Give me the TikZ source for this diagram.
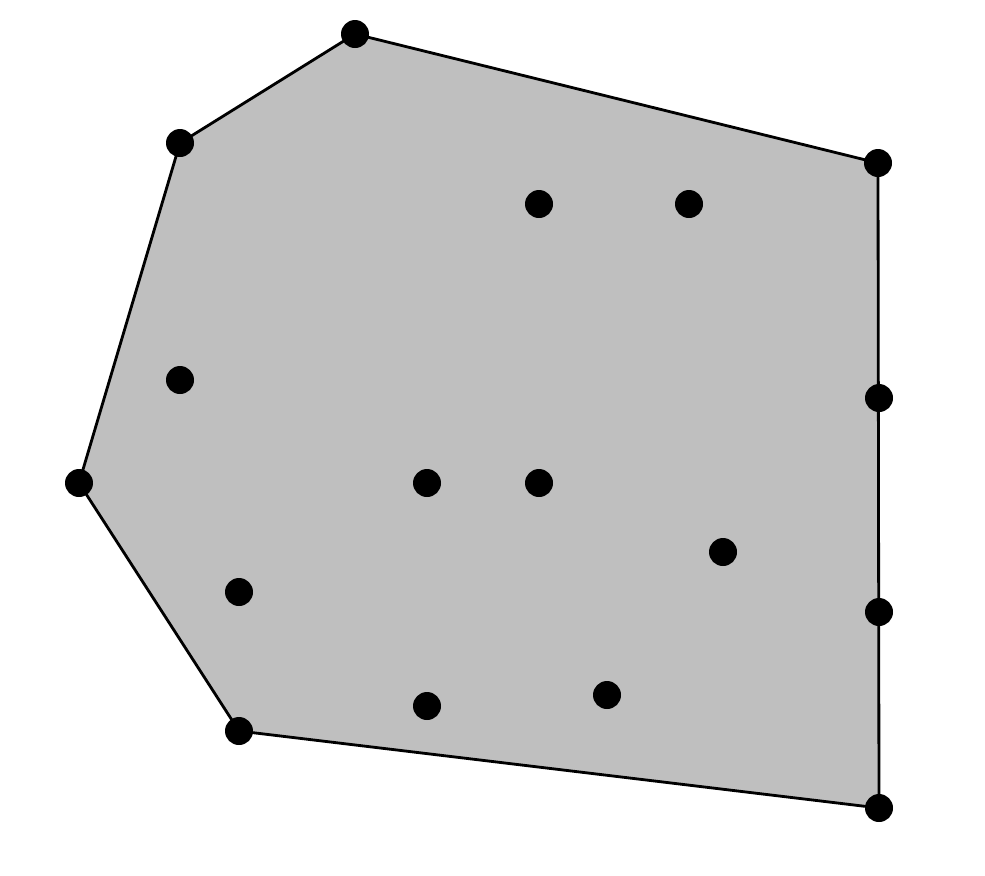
\documentclass[tikz,border=0pt]{standalone}
\begin{document}
\begin{tikzpicture}[x=0.2mm,y=-0.2mm,line join=round,
  dot/.style={circle,fill=black,inner sep=0pt,minimum size=5.6mm},
  hull/.style={draw=black,line width=1.6pt,fill=black!25}]
  \useasboundingbox (0,0) rectangle (985,875);
  % hull corners
  \coordinate (h1) at (355,34);
  \coordinate (h2) at (878,163);
  \coordinate (h3) at (879,808);
  \coordinate (h4) at (239,731);
  \coordinate (h5) at (79,483);
  \coordinate (h6) at (180,143);
  \draw[hull] (h1) -- (h2) -- (h3) -- (h4) -- (h5) -- (h6) -- cycle;
  \foreach \h in {h1,h2,h3,h4,h5,h6}
    \node[dot] (n\h) at (\h) {};
  % points on the right edge and inside
  \foreach \px/\py [count=\i] in {879/398,879/612,539/204,689/204,180/380,427/483,539/483,723/552,239/592,427/706,607/695}
    \node[dot] (p\i) at (\px,\py) {};
\end{tikzpicture}
\end{document}
